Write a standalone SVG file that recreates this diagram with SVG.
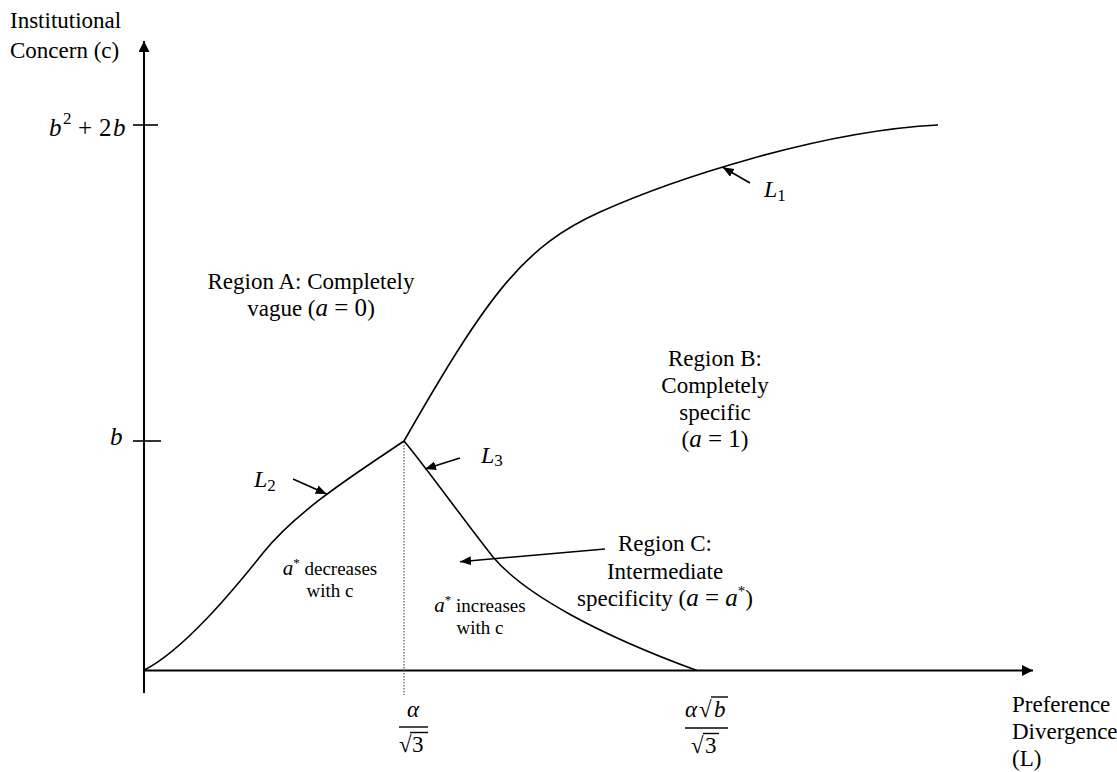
<svg xmlns="http://www.w3.org/2000/svg" width="1117" height="772" viewBox="0 0 1117 772">
<style>
  .t { font-family: "Liberation Serif", "Times New Roman", serif; font-size: 23px; fill: #000; }
  .s { font-family: "Liberation Serif", "Times New Roman", serif; font-size: 19px; fill: #000; }
  .m { font-family: "Liberation Serif", "Times New Roman", serif; font-style: italic; }
  .u { font-family: "Liberation Serif", "Times New Roman", serif; font-style: normal; }
  .axis { stroke: #000; stroke-width: 2; fill: none; }
  .curve { stroke: #000; stroke-width: 1.6; fill: none; }
  .tick { stroke: #000; stroke-width: 1.6; }
  .ann { stroke: #000; stroke-width: 1.6; fill: none; }
  .bar { stroke: #000; stroke-width: 1.4; }
</style>
<defs>
  <marker id="axhead" markerUnits="userSpaceOnUse" markerWidth="12" markerHeight="12" refX="11" refY="5.5" orient="auto">
    <path d="M0,0 L11,5.5 L0,11 Z" fill="#000"/>
  </marker>
  <marker id="anhead" markerUnits="userSpaceOnUse" markerWidth="12" markerHeight="10" refX="11" refY="4.5" orient="auto">
    <path d="M0,0 L11,4.5 L0,9 Z" fill="#000"/>
  </marker>
</defs>
<rect x="0" y="0" width="1117" height="772" fill="#fff"/>

<g id="axes">
  <line class="axis" x1="144" y1="693" x2="144" y2="41" marker-end="url(#axhead)"/>
  <line class="axis" x1="143" y1="670.5" x2="1033" y2="670.5" marker-end="url(#axhead)"/>
  <line class="tick" x1="133" y1="125" x2="158" y2="125"/>
  <line class="tick" x1="133" y1="441" x2="161" y2="441"/>
  <line x1="404" y1="442" x2="404" y2="695" stroke="#555" stroke-width="1.2" stroke-dasharray="1.5,1.5"/>
</g>

<g id="y-axis-label">
  <text class="t" x="10" y="28">Institutional</text>
  <text class="t" x="10" y="58">Concern (c)</text>
</g>
<g id="x-axis-label">
  <text class="t" x="1012" y="712">Preference</text>
  <text class="t" x="1012" y="739">Divergence</text>
  <text class="t" x="1012" y="766">(L)</text>
</g>

<g id="tick-labels">
  <text class="m" font-size="25" x="49" y="136">b</text>
  <text class="u" font-size="17" x="63" y="124">2</text>
  <text class="u" font-size="25" x="78" y="136">+</text>
  <text class="u" font-size="25" x="99" y="136">2</text>
  <text class="m" font-size="25" x="113" y="136">b</text>
  <text class="m" font-size="25" x="110" y="445">b</text>
</g>

<g id="frac1">
  <text class="m" font-size="23" x="413" y="717" text-anchor="middle">α</text>
  <line class="bar" x1="399" y1="727" x2="428" y2="727"/>
  <text class="u" font-size="23" x="399" y="752">√</text>
  <line class="bar" x1="410" y1="732.5" x2="428" y2="732.5"/>
  <text class="u" font-size="23" x="412" y="752">3</text>
</g>
<g id="frac2">
  <text class="m" font-size="23" x="685" y="717">α</text>
  <text class="u" font-size="23" x="699" y="717">√</text>
  <line class="bar" x1="711" y1="697" x2="728" y2="697"/>
  <text class="m" font-size="23" x="714" y="717">b</text>
  <line class="bar" x1="685" y1="728" x2="728" y2="728"/>
  <text class="u" font-size="23" x="691" y="753">√</text>
  <line class="bar" x1="703" y1="733.5" x2="719" y2="733.5"/>
  <text class="u" font-size="23" x="705" y="753">3</text>
</g>

<g id="curves">
  <path id="L1" class="curve" d="M404,441 C489,292.25 525,245.75 600,212 C670,180.5 818,131 938,125"/>
  <path id="L2" class="curve" d="M143.5,670.5 C183.5,650.5 233,590.5 263,553 C298,509.25 359,471.6 404,441"/>
  <path id="L3" class="curve" d="M404,441 C425,466 460,515 493,557 C525,595 600,635 697,670.5"/>
</g>

<g id="connectors">
  <line class="ann" x1="750" y1="183" x2="722.7" y2="167.3" marker-end="url(#anhead)"/>
  <line class="ann" x1="293" y1="479" x2="326.7" y2="494" marker-end="url(#anhead)"/>
  <line class="ann" x1="460" y1="458" x2="425" y2="469" marker-end="url(#anhead)"/>
  <line class="ann" x1="605" y1="549" x2="460" y2="561.7" marker-end="url(#anhead)"/>
</g>

<g id="curve-labels">
  <text class="m" font-size="24" x="764" y="197">L<tspan class="u" font-size="17" dy="4">1</tspan></text>
  <text class="m" font-size="24" x="254" y="487">L<tspan class="u" font-size="17" dy="4">2</tspan></text>
  <text class="m" font-size="24" x="481" y="463">L<tspan class="u" font-size="17" dy="3">3</tspan></text>
</g>

<g id="region-a">
  <text class="t" x="311" y="289" text-anchor="middle">Region A: Completely</text>
  <text class="t" x="311" y="316" text-anchor="middle">vague (<tspan class="m" font-size="25">a</tspan><tspan font-size="25"> = 0</tspan>)</text>
</g>
<g id="region-b">
  <text class="t" x="715" y="366" text-anchor="middle">Region B:</text>
  <text class="t" x="715" y="393" text-anchor="middle">Completely</text>
  <text class="t" x="715" y="420" text-anchor="middle">specific</text>
  <text class="t" x="715" y="447" text-anchor="middle">(<tspan class="m" font-size="25">a</tspan><tspan font-size="25"> = 1</tspan>)</text>
</g>
<g id="region-c">
  <text class="t" x="665" y="551" text-anchor="middle">Region C:</text>
  <text class="t" x="665" y="579" text-anchor="middle">Intermediate</text>
  <text class="t" x="665" y="606" text-anchor="middle">specificity (<tspan class="m" font-size="25">a</tspan><tspan font-size="25"> = </tspan><tspan class="m" font-size="25">a</tspan><tspan font-size="15" dy="-10">*</tspan><tspan dy="10">)</tspan></text>
</g>
<g id="note-decreases">
  <text class="s" x="330" y="575" text-anchor="middle"><tspan class="m" font-size="21">a</tspan><tspan font-size="13" dy="-8">*</tspan><tspan dy="8"> decreases</tspan></text>
  <text class="s" x="330" y="597" text-anchor="middle">with c</text>
</g>
<g id="note-increases">
  <text class="s" x="480" y="612" text-anchor="middle"><tspan class="m" font-size="21">a</tspan><tspan font-size="13" dy="-8">*</tspan><tspan dy="8"> increases</tspan></text>
  <text class="s" x="480" y="634" text-anchor="middle">with c</text>
</g>
</svg>
